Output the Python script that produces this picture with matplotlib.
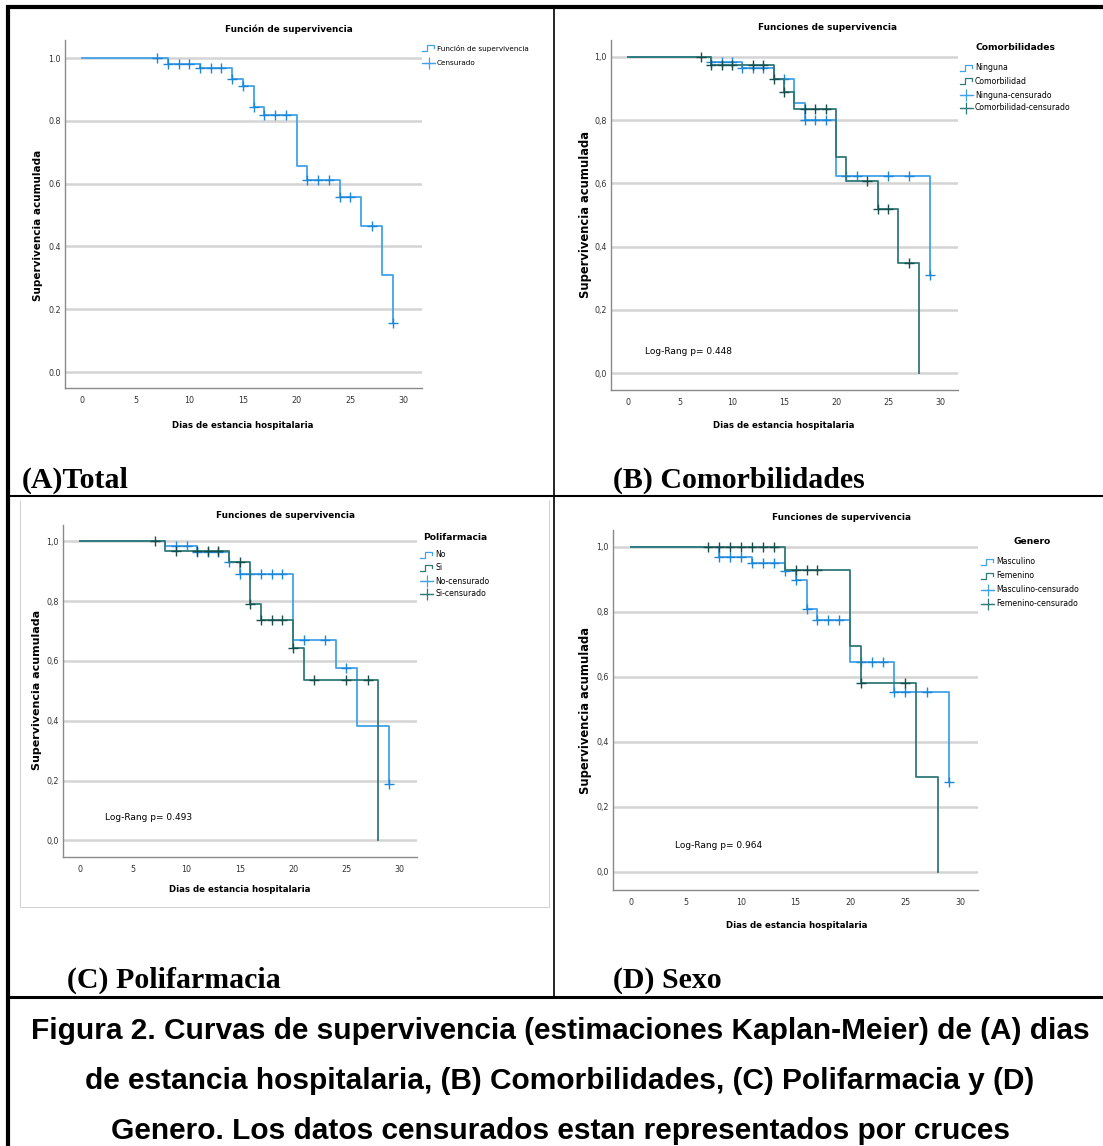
import matplotlib
matplotlib.use("Agg")
import matplotlib.pyplot as plt
from matplotlib.lines import Line2D

# ---- data (Kaplan-Meier steps) ----
# (A) Total
a_time = [0, 8, 11, 14, 15, 16, 17, 20, 21, 24, 26, 28, 29]
a_surv = [1.0, 0.981, 0.968, 0.932, 0.912, 0.845, 0.818, 0.655, 0.611, 0.556, 0.465, 0.310, 0.155]
a_cens = [7, 8, 9, 10, 11, 12, 13, 14, 15, 16, 17, 18, 19, 21, 22, 23, 24, 25, 27, 29]

# (B) Comorbilidades
b_ning_time = [0, 8, 11, 14, 16, 17, 20, 29]
b_ning_surv = [1.0, 0.984, 0.963, 0.930, 0.853, 0.800, 0.624, 0.310]
b_ning_cens = [8, 9, 10, 11, 12, 13, 15, 17, 18, 19, 21, 22, 25, 27, 29]
b_com_time = [0, 8, 14, 15, 16, 20, 21, 24, 26, 28]
b_com_surv = [1.0, 0.975, 0.930, 0.887, 0.835, 0.682, 0.606, 0.519, 0.347, 0.0]
b_com_cens = [7, 8, 9, 10, 12, 13, 14, 15, 17, 18, 19, 23, 24, 25, 27]

# (C) Polifarmacia
c_no_time = [0, 8, 11, 14, 15, 20, 24, 26, 29]
c_no_surv = [1.0, 0.985, 0.965, 0.930, 0.892, 0.670, 0.575, 0.382, 0.188]
c_no_cens = [9, 10, 11, 12, 13, 14, 15, 16, 17, 18, 19, 21, 23, 25, 29]
c_si_time = [0, 8, 14, 16, 17, 20, 21, 28]
c_si_surv = [1.0, 0.969, 0.930, 0.789, 0.737, 0.643, 0.537, 0.0]
c_si_cens = [7, 9, 11, 12, 13, 15, 16, 17, 18, 19, 20, 22, 25, 27]

# (D) Sexo
d_m_time = [0, 8, 11, 14, 15, 16, 17, 20, 24, 29]
d_m_surv = [1.0, 0.968, 0.951, 0.926, 0.898, 0.809, 0.775, 0.645, 0.552, 0.276]
d_m_cens = [8, 9, 10, 11, 12, 13, 14, 15, 16, 17, 18, 19, 21, 22, 23, 24, 25, 27, 29]
d_f_time = [0, 14, 20, 21, 26, 28]
d_f_surv = [1.0, 0.928, 0.695, 0.580, 0.290, 0.0]
d_f_cens = [7, 8, 9, 10, 11, 12, 13, 15, 16, 17, 21, 25]

x_ticks = [0, 5, 10, 15, 20, 25, 30]
y_ticks = [0.0, 0.2, 0.4, 0.6, 0.8, 1.0]

LIGHT = "#41a3ea"
LIGHT_MK = "#1c86d8"
DARK = "#2f7a78"
DARK_MK = "#174f4d"

W, H = 1103, 1146
fig = plt.figure(figsize=(W / 100, H / 100), dpi=100)

SANS = "DejaVu Sans"


def fx(x):
    return x / W


def fy(y):
    return 1 - y / H


def surv_at(times, survs, t):
    s = survs[0]
    for ti, si in zip(times, survs):
        if ti <= t:
            s = si
    return s


def make_axes(box, x0px, xscale, y0px, y1px, comma=True):
    # box = (left, top, right, bottom) in pixels from top-left
    l, t, r, b = box
    ax = fig.add_axes([l / W, 1 - b / H, (r - l) / W, (b - t) / H])
    yscale = y0px - y1px
    ax.set_xlim((l - x0px) / xscale, (r - x0px) / xscale)
    ax.set_ylim(-(b - y0px) / yscale, (y0px - t) / yscale)
    for s in ["top", "right"]:
        ax.spines[s].set_visible(False)
    for s in ["left", "bottom"]:
        ax.spines[s].set_color("#8a8a8a")
        ax.spines[s].set_linewidth(1.0)
    ax.set_xticks(x_ticks)
    ax.set_yticks(y_ticks)
    if comma:
        ax.set_yticklabels([f"{v:.1f}".replace(".", ",") for v in y_ticks])
    else:
        ax.set_yticklabels([f"{v:.1f}" for v in y_ticks])
    ax.tick_params(length=0, labelsize=5.8, colors="#333333")
    ax.tick_params(axis="x", pad=6)
    ax.tick_params(axis="y", pad=3)
    ax.yaxis.grid(True, color="#d4d4d4", lw=1.8)
    ax.set_axisbelow(True)
    return ax


def km(ax, times, survs, cens, color, mcolor):
    ax.step(times, survs, where="post", color=color, lw=1.3)
    ax.plot(cens, [surv_at(times, survs, t) for t in cens], ls="none",
            marker="+", ms=6.5, mew=1.0, color=mcolor)


def texts(title, title_xy, xlab_xy, ylab_xy, ylab_size=8.3):
    fig.text(fx(title_xy[0]), fy(title_xy[1]), title, fontsize=6.4,
             fontweight="bold", family=SANS, ha="center", va="center")
    fig.text(fx(xlab_xy[0]), fy(xlab_xy[1]), "Dias de estancia hospitalaria",
             fontsize=6.2, fontweight="bold", family=SANS, ha="center", va="center")
    fig.text(fx(ylab_xy[0]), fy(ylab_xy[1]), "Supervivencia acumulada",
             fontsize=ylab_size, fontweight="bold", family=SANS, ha="center",
             va="center", rotation=90)


def fline(x0, y0, x1, y1, lw, color="black"):
    fig.add_artist(Line2D([fx(x0), fx(x1)], [fy(y0), fy(y1)], color=color,
                          lw=lw, transform=fig.transFigure, solid_capstyle="butt"))


def step_icon(x, y, color):
    xs = [x, x + 5, x + 5, x + 12, x + 12]
    ys = [y + 3, y + 3, y - 3, y - 3, y]
    fig.add_artist(Line2D([fx(v) for v in xs], [fy(v) for v in ys], color=color,
                          lw=0.9, transform=fig.transFigure))


def cross_icon(x, y, color):
    fig.add_artist(Line2D([fx(x), fx(x + 13)], [fy(y), fy(y)], color=color,
                          lw=0.9, transform=fig.transFigure))
    fig.add_artist(Line2D([fx(x + 6.5)], [fy(y)], color=color, marker="+",
                          ms=8, mew=0.9, transform=fig.transFigure))


def legend(names, x, rows, title=None, title_xy=None, size=5.6):
    kinds = ["step", "cross"] if len(names) == 2 else ["step", "step", "cross", "cross"]
    colors = [LIGHT, LIGHT] if len(names) == 2 else [LIGHT, DARK, LIGHT, DARK]
    for name, kind, col, y in zip(names, kinds, colors, rows):
        if kind == "step":
            step_icon(x, y, col)
        else:
            cross_icon(x, y, col)
        fig.text(fx(x + 15), fy(y), name, fontsize=size, family=SANS, va="center")
    if title:
        fig.text(fx(title_xy[0]), fy(title_xy[1]), title, fontsize=6.6,
                 fontweight="bold", family=SANS, ha="center", va="center")


# ---- panel A ----
axA = make_axes((65, 40, 422, 388), 82, 10.73, 372, 58, comma=False)
km(axA, a_time, a_surv, a_cens, LIGHT, LIGHT_MK)
texts("Función de supervivencia", (289, 29), (243, 425), (38, 225), ylab_size=7.5)
legend(["Función de supervivencia", "Censurado"], 422, [48, 63], size=5.2)

# ---- panel B ----
axB = make_axes((611, 40, 958, 390), 628, 10.4, 373.3, 56.7)
km(axB, b_ning_time, b_ning_surv, b_ning_cens, LIGHT, LIGHT_MK)
km(axB, b_com_time, b_com_surv, b_com_cens, DARK, DARK_MK)
texts("Funciones de supervivencia", (828, 28), (784, 426), (585, 215))
legend(["Ninguna", "Comorbilidad", "Ninguna-censurado", "Comorbilidad-censurado"],
       960, [68, 81, 95, 108], title="Comorbilidades", title_xy=(1015, 47))
fig.text(fx(645), fy(351), "Log-Rang p= 0.448", fontsize=6.5, family=SANS, va="center")

# ---- panel C ----
axC = make_axes((63, 525, 417, 857), 80, 10.65, 840.3, 541.3)
km(axC, c_no_time, c_no_surv, c_no_cens, LIGHT, LIGHT_MK)
km(axC, c_si_time, c_si_surv, c_si_cens, DARK, DARK_MK)
texts("Funciones de supervivencia", (285, 515), (240, 890), (37, 690), ylab_size=8.0)
legend(["No", "Si", "No-censurado", "Si-censurado"], 420, [555, 568, 581, 594],
       title="Polifarmacia", title_xy=(455, 537))
fig.text(fx(105), fy(817), "Log-Rang p= 0.493", fontsize=6.5, family=SANS, va="center")

# ---- panel D ----
axD = make_axes((613, 530, 978, 890), 631, 10.97, 871.7, 546.7)
km(axD, d_m_time, d_m_surv, d_m_cens, LIGHT, LIGHT_MK)
km(axD, d_f_time, d_f_surv, d_f_cens, DARK, DARK_MK)
texts("Funciones de supervivencia", (842, 518), (797, 925), (586, 710))
legend(["Masculino", "Femenino", "Masculino-censurado", "Femenino-censurado"],
       981, [562, 576, 590, 604], title="Genero", title_xy=(1032, 542))
fig.text(fx(675), fy(846), "Log-Rang p= 0.964", fontsize=6.5, family=SANS, va="center")

# ---- frame lines ----
fline(8, 5, 8, H, 3.0)
fline(6, 7, W, 7, 3.0)
fline(554, 7, 554, 997, 1.2)
fline(8, 496, W, 496, 1.5)
fline(8, 997, W, 997, 2.2)
# light border round panel C chart
fline(20, 500, 20, 907, 0.6, "#c8c8c8")
fline(20, 907, 549, 907, 0.6, "#c8c8c8")
fline(549, 500, 549, 907, 0.6, "#c8c8c8")

# ---- panel labels ----
SERIF = ["Liberation Serif", "DejaVu Serif"]
for lab, x, y in [("(A)Total", 22, 480), ("(B) Comorbilidades", 613, 480),
                  ("(C) Polifarmacia", 67, 980), ("(D) Sexo", 613, 980)]:
    fig.text(fx(x), fy(y), lab, fontsize=21.5, fontweight="bold", family=SERIF, va="center")

# ---- caption ----
caption = [
    "Figura 2. Curvas de supervivencia (estimaciones Kaplan-Meier) de (A) dias",
    "de estancia hospitalaria, (B) Comorbilidades, (C) Polifarmacia y (D)",
    "Genero. Los datos censurados estan representados por cruces",
]
for i, line in enumerate(caption):
    fig.text(fx(560), fy(1031 + 50 * i), line, fontsize=21.5, fontweight="bold",
             family=["Liberation Sans", "DejaVu Sans"], ha="center", va="center")

fig.savefig("out.png", dpi=100)
